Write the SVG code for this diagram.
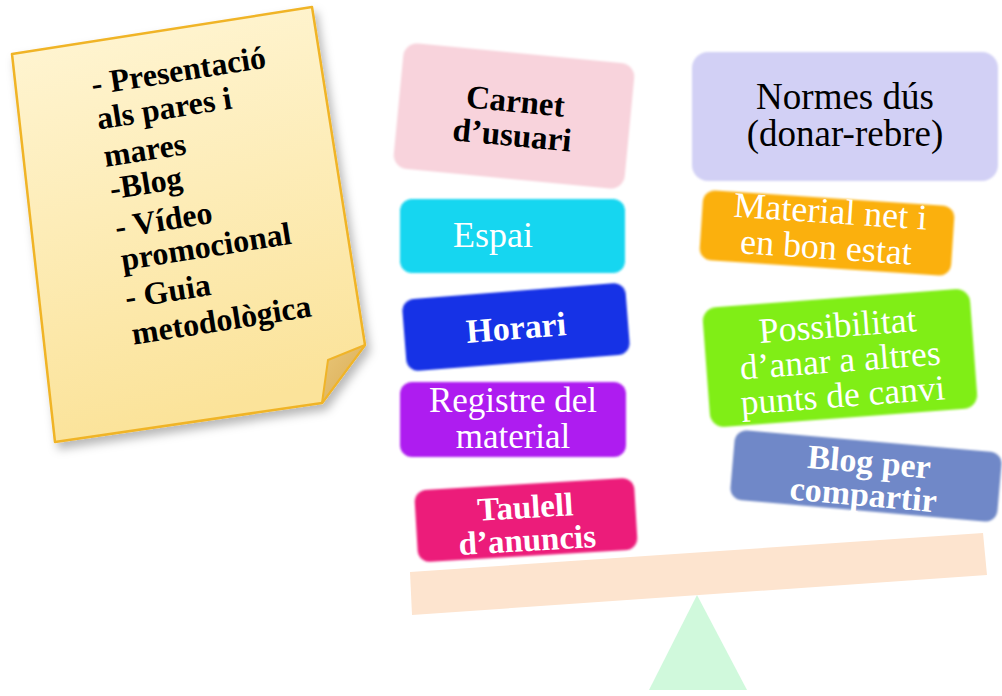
<svg xmlns="http://www.w3.org/2000/svg" width="1002" height="696" viewBox="0 0 1002 696">
<defs>
<linearGradient id="paperGrad" x1="0" y1="0" x2="0.2" y2="1">
<stop offset="0" stop-color="#fff6d6"/>
<stop offset="1" stop-color="#fbe39a"/>
</linearGradient>
<linearGradient id="foldGrad" x1="0" y1="0" x2="1" y2="1">
<stop offset="0" stop-color="#e9c678"/>
<stop offset="1" stop-color="#d9ac55"/>
</linearGradient>
<filter id="shadow" x="-20%" y="-20%" width="140%" height="140%">
<feDropShadow dx="4" dy="6" stdDeviation="5" flood-color="#000" flood-opacity="0.28"/>
</filter>
<filter id="soft" x="-10%" y="-10%" width="120%" height="120%">
<feGaussianBlur stdDeviation="0.8"/>
</filter>
</defs>
<style>
.t{font-family:"Liberation Serif","Times New Roman",serif;text-anchor:middle}
.w{fill:#ffffff}
.k{fill:#000000}
.b{font-weight:bold}
.note{font-family:"Liberation Serif","Times New Roman",serif;font-weight:bold;font-size:32px;fill:#000}
</style>
<rect width="1002" height="696" fill="#ffffff"/>

<g id="note">
<polygon points="12,54 312,7 365,345 322,403 55,442" fill="url(#paperGrad)" stroke="#f0b428" stroke-width="2.5" stroke-linejoin="round" filter="url(#shadow)"/>
<polygon points="365,345 322,403 328,360" fill="url(#foldGrad)" stroke="#f0b428" stroke-width="2" stroke-linejoin="round"/>
<text class="note" transform="rotate(-9 93 95)">
<tspan x="93" y="95">- Presentació</tspan>
<tspan x="93" y="130">als pares i</tspan>
<tspan x="94" y="168">mares</tspan>
<tspan x="95" y="201">-Blog</tspan>
<tspan x="94" y="240">- Vídeo</tspan>
<tspan x="95" y="273">promocional</tspan>
<tspan x="93" y="311">- Guia</tspan>
<tspan x="94" y="348">metodològica</tspan>
</text>
</g>

<g id="triangle">
<polygon points="697,595 649,690 747,690" fill="#d0f9dc"/>
</g>
<g id="beam">
<polygon points="410,572 983,533 987,575 412,615" fill="#fde4cf"/>
</g>

<g id="carnet" transform="translate(514 116) rotate(5.5)">
<rect x="-116" y="-63" width="232" height="126" rx="14" fill="#f8d3dc" filter="url(#soft)"/>
<text class="t k b" font-size="33"><tspan x="0" y="-4">Carnet</tspan><tspan x="0" y="30">d’usuari</tspan></text>
</g>

<g id="espai">
<rect x="400" y="199" width="225" height="74" rx="12" fill="#12d6f0" filter="url(#soft)"/>
<text class="t w" font-size="36" x="453" y="247" style="text-anchor:start">Espai</text>
</g>

<g id="horari" transform="translate(516 327) rotate(-4.5)">
<rect x="-112" y="-36" width="224" height="72" rx="12" fill="#1430e6" filter="url(#soft)"/>
<text class="t w b" font-size="34" x="0" y="12">Horari</text>
</g>

<g id="registre">
<rect x="400" y="382" width="226" height="75" rx="12" fill="#ae1ff0" filter="url(#soft)"/>
<text class="t w" font-size="35"><tspan x="513" y="412">Registre del</tspan><tspan x="513" y="448">material</tspan></text>
</g>

<g id="taulell" transform="translate(526 520) rotate(-3.4)">
<rect x="-110" y="-36" width="220" height="72" rx="12" fill="#ec1a7a" filter="url(#soft)"/>
<text class="t w b" font-size="33"><tspan x="0" y="-2">Taulell</tspan><tspan x="0" y="31">d’anuncis</tspan></text>
</g>

<g id="normes">
<rect x="692" y="52" width="306" height="129" rx="16" fill="#d2d0f5" filter="url(#soft)"/>
<text class="t k" font-size="37"><tspan x="845" y="109">Normes dús</tspan><tspan x="845" y="146">(donar-rebre)</tspan></text>
</g>

<g id="material" transform="translate(827 233) rotate(3.8)">
<rect x="-126" y="-35" width="252" height="70" rx="12" fill="#fbb00e" filter="url(#soft)"/>
<text class="t w" font-size="36"><tspan x="2" y="-10">Material net i</tspan><tspan x="0" y="26">en bon estat</tspan></text>
</g>

<g id="possibilitat" transform="translate(840 358) rotate(-4.3)">
<rect x="-134" y="-60" width="268" height="120" rx="14" fill="#80ee14" filter="url(#soft)"/>
<text class="t w" font-size="35.5"><tspan x="0" y="-21">Possibilitat</tspan><tspan x="0" y="14">d’anar a altres</tspan><tspan x="0" y="49">punts de canvi</tspan></text>
</g>

<g id="blog" transform="translate(866 476) rotate(5)">
<rect x="-134" y="-35" width="268" height="70" rx="12" fill="#6f88c8" filter="url(#soft)"/>
<text class="t w b" font-size="34"><tspan x="2" y="-3">Blog per</tspan><tspan x="-1" y="30">compartir</tspan></text>
</g>

<g id="connectors"/>
</svg>
